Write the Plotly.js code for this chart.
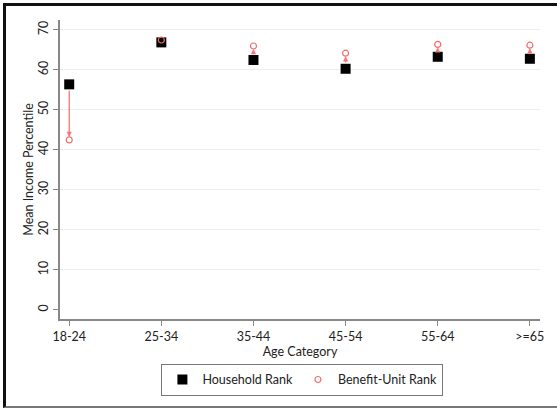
<!DOCTYPE html>
<html>
<head>
<meta charset="utf-8">
<script src="https://cdn.plot.ly/plotly-3.0.1.min.js"></script>
<style>
html,body{margin:0;padding:0;background:#fff;}
#frame{position:absolute;left:3px;top:3px;width:554px;height:405px;border-top:3px solid #111;border-left:3px solid #111;border-bottom:2px solid #777;box-sizing:border-box;}
#chart{position:absolute;left:0;top:0;width:557px;height:410px;}
</style>
</head>
<body>
<div id="chart"></div>
<div id="frame"></div>
<script>
var categories = ["18-24", "25-34", "35-44", "45-54", "55-64", ">=65"];
var householdRank = [56.4, 66.9, 62.5, 60.3, 63.3, 62.8];
var benefitUnitRank = [42.5, 67.5, 66.0, 64.2, 66.4, 66.2];
var yTicks = [0, 10, 20, 30, 40, 50, 60, 70];

var arrows = categories.map(function(c, i){
  return {
    x: c, y: benefitUnitRank[i], ax: c, ay: householdRank[i],
    xref: 'x', yref: 'y', axref: 'x', ayref: 'y',
    showarrow: true, arrowhead: 2, arrowsize: 0.8, arrowwidth: 1.3,
    arrowcolor: '#ff7373', standoff: 3, startstandoff: 5, text: ''
  };
});

var traces = [
  {x: categories, y: householdRank, type: 'scatter', mode: 'markers', name: 'Household Rank',
   marker: {symbol: 'square', size: 10, color: '#000'}},
  {x: categories, y: benefitUnitRank, type: 'scatter', mode: 'markers', name: 'Benefit-Unit Rank',
   marker: {symbol: 'circle-open', size: 6, color: '#f26b6b', line: {width: 1.2}}}
];

var layout = {
  width: 557, height: 410,
  margin: {l: 60, r: 17, t: 20, b: 91},
  paper_bgcolor: '#fff', plot_bgcolor: '#fff',
  font: {family: 'Lato, "Open Sans", sans-serif', size: 12.5, color: '#222'},
  showlegend: true,
  legend: {orientation: 'h', x: 0.505, xanchor: 'center', y: -0.15, yanchor: 'top',
           bordercolor: '#777', borderwidth: 1, font: {size: 12.5}, itemwidth: 20,
           traceorder: 'normal'},
  xaxis: {type: 'category', range: [-0.1, 5.11], showgrid: false,
          showline: true, linecolor: '#888', linewidth: 2,
          ticks: 'outside', ticklen: 5, tickcolor: '#888', tickwidth: 1,
          tickfont: {size: 12.5},
          title: {text: 'Age Category', font: {size: 12.5}, standoff: 0}},
  yaxis: {range: [-2.3, 72.5], tickvals: yTicks, ticktext: yTicks.map(String),
          tickangle: -90, showgrid: true, gridcolor: '#e5eef0', gridwidth: 1,
          zeroline: true, zerolinecolor: '#fff',
          showline: true, linecolor: '#888', linewidth: 2,
          ticks: 'outside', ticklen: 5, tickcolor: '#888', tickwidth: 1,
          tickfont: {size: 12.5},
          title: {text: 'Mean Income Percentile', font: {size: 12.5}, standoff: 0}},
  annotations: arrows
};

Plotly.newPlot('chart', traces, layout, {displayModeBar: false, staticPlot: true});
</script>
</body>
</html>
